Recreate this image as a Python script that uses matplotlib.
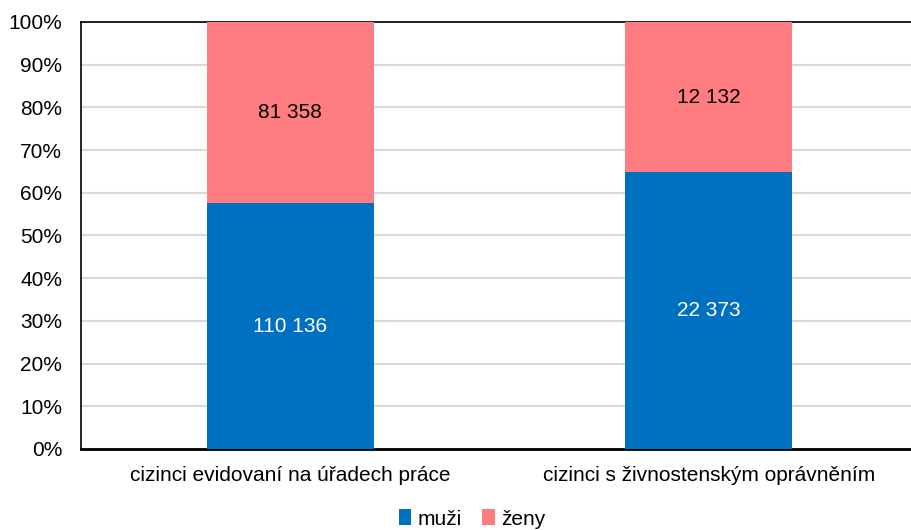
import matplotlib
matplotlib.use("Agg")
import matplotlib.pyplot as plt
import numpy as np

categories = ["cizinci evidovaní na úřadech práce", "cizinci s živnostenským oprávněním"]
series_names = ["muži", "ženy"]
muzi = [110136, 22373]
zeny = [81358, 12132]
colors = ["#0070C0", "#FF7C80"]

plt.rcParams['font.family'] = ['Liberation Sans', 'DejaVu Sans']
FS = 15

def fmt(v):
    return f"{v:,}".replace(",", " ")

fig = plt.figure(figsize=(9.12, 5.30), dpi=100)
ax = fig.add_axes([81/912, 1-449/530, 837/912, 427/530])

m = np.array(muzi, float)
z = np.array(zeny, float)
tot = m + z
mp = m / tot * 100
zp = z / tot * 100
x = np.arange(len(categories))
w = 0.4
ax.bar(x, mp, w, color=colors[0], label=series_names[0], zorder=3)
ax.bar(x, zp, w, bottom=mp, color=colors[1], label=series_names[1], zorder=3)
for i in range(len(x)):
    ax.text(x[i], mp[i]/2, fmt(muzi[i]), ha='center', va='center', color='white', fontsize=FS, zorder=4)
    ax.text(x[i], mp[i] + zp[i]/2, fmt(zeny[i]), ha='center', va='center', color='black', fontsize=FS, zorder=4)

ax.set_xlim(-0.5, 1.5)
ax.set_ylim(0, 100)
ax.set_yticks(np.arange(0, 101, 10))
ax.set_yticklabels([f"{v}%" for v in range(0, 101, 10)], fontsize=FS)
ax.set_xticks(x)
ax.set_xticklabels(categories, fontsize=FS)
ax.tick_params(axis='both', length=0)
ax.tick_params(axis='y', pad=13.5)
ax.tick_params(axis='x', pad=12)
ax.yaxis.grid(True, color='#D9D9D9', linewidth=1.5, zorder=0)
ax.set_axisbelow(True)
for s in ['left', 'top']:
    ax.spines[s].set_linewidth(1.2)
ax.spines['bottom'].set_linewidth(2)
ax.spines['right'].set_visible(False)

leg = fig.legend(loc='center', bbox_to_anchor=(472/912, 1-519/530), ncol=2, frameon=False,
                 fontsize=FS, handlelength=0.6, handleheight=0.8, handletextpad=0.3, columnspacing=1.0)
fig.savefig("out.png", dpi=100)
